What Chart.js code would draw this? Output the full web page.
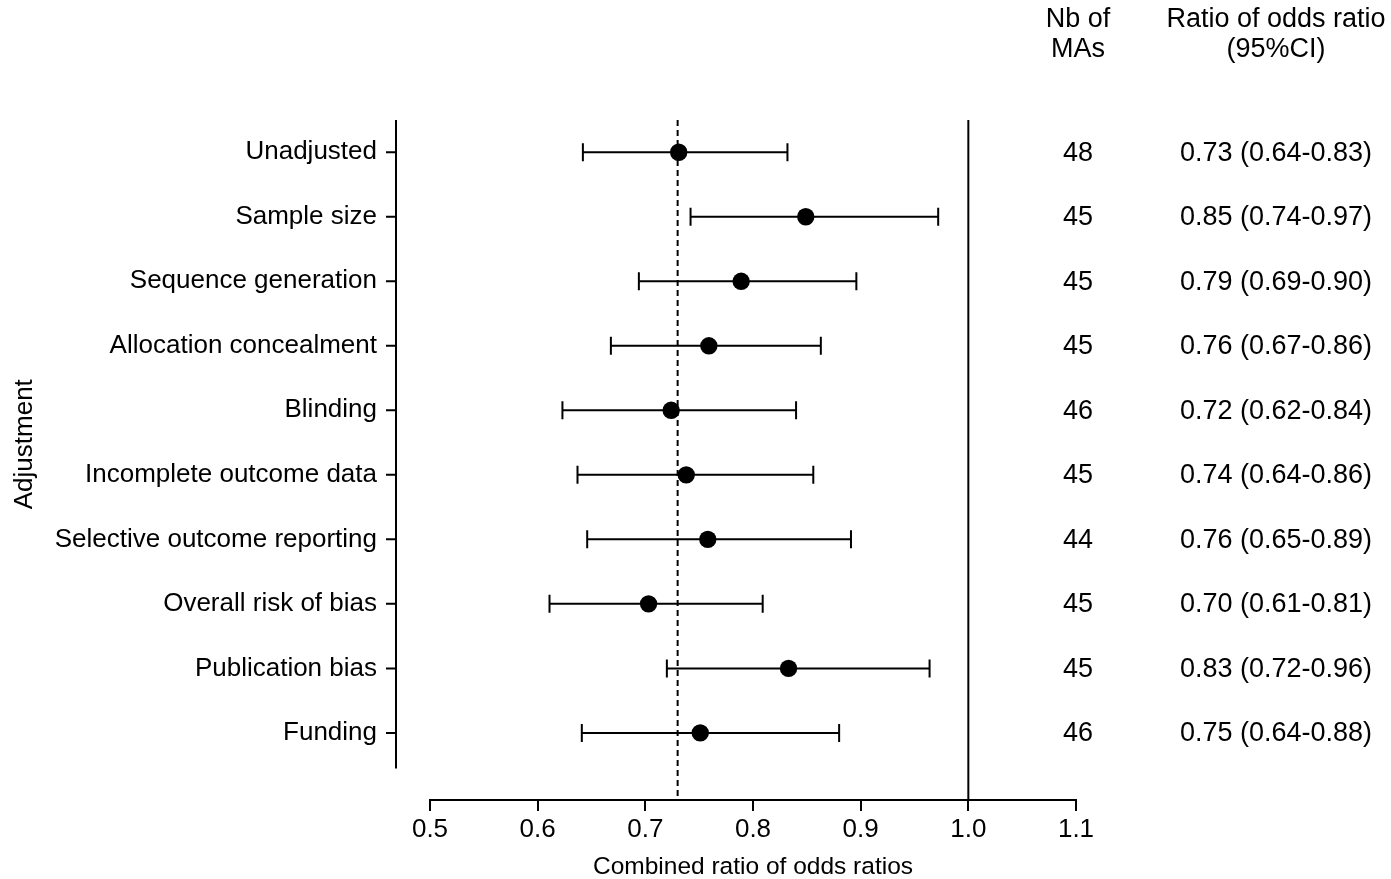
<!DOCTYPE html>
<html>
<head>
<meta charset="utf-8">
<script src="https://cdn.jsdelivr.net/npm/chart.js@4.4.1/dist/chart.umd.min.js"></script>
<style>
  body { margin: 0; background: #fff; }
  canvas { display: block; }
</style>
</head>
<body>
<canvas id="forest" width="1391" height="879"></canvas>
<script>
const rowLabels = ['Unadjusted', 'Sample size', 'Sequence generation', 'Allocation concealment', 'Blinding',
    'Incomplete outcome data', 'Selective outcome reporting', 'Overall risk of bias', 'Publication bias', 'Funding'];
const estimate = [0.731, 0.849, 0.789, 0.759, 0.724, 0.738, 0.758, 0.703, 0.833, 0.751];
const lower = [0.642, 0.742, 0.694, 0.668, 0.623, 0.637, 0.646, 0.611, 0.720, 0.641];
const upper = [0.832, 0.972, 0.896, 0.863, 0.840, 0.856, 0.891, 0.809, 0.964, 0.880];
const nbMAs = ['48', '45', '45', '45', '46', '45', '44', '45', '45', '46'];
const ciText = ['0.73 (0.64-0.83)', '0.85 (0.74-0.97)', '0.79 (0.69-0.90)', '0.76 (0.67-0.86)', '0.72 (0.62-0.84)',
    '0.74 (0.64-0.86)', '0.76 (0.65-0.89)', '0.70 (0.61-0.81)', '0.83 (0.72-0.96)', '0.75 (0.64-0.88)'];
const pooledValue = 0.73;
const nullValue = 1.0;
const xTicks = [0.5, 0.6, 0.7, 0.8, 0.9, 1.0, 1.1];

const font = '"Liberation Sans", Arial, sans-serif';

// error bars, reference lines, y axis and the right-hand columns
const forestPlugin = {
    id: 'forest',
    beforeDatasetsDraw(chart) {
        const ctx = chart.ctx;
        const x = chart.scales.x;
        const y = chart.scales.y;
        const top = chart.chartArea.top;
        const bottom = chart.chartArea.bottom;
        ctx.save();
        ctx.strokeStyle = '#000';

        ctx.lineWidth = 2;
        ctx.setLineDash([6, 4]);
        ctx.beginPath();
        ctx.moveTo(x.getPixelForValue(pooledValue), top);
        ctx.lineTo(x.getPixelForValue(pooledValue), bottom);
        ctx.stroke();
        ctx.setLineDash([]);

        ctx.lineWidth = 2;
        ctx.beginPath();
        ctx.moveTo(x.getPixelForValue(nullValue), top);
        ctx.lineTo(x.getPixelForValue(nullValue), bottom);
        ctx.stroke();

        ctx.lineWidth = 2;
        for (let i = 0; i < rowLabels.length; i++) {
            const py = y.getPixelForValue(i);
            const x1 = x.getPixelForValue(lower[i]);
            const x2 = x.getPixelForValue(upper[i]);
            ctx.beginPath();
            ctx.moveTo(x1, py);
            ctx.lineTo(x2, py);
            ctx.moveTo(x1, py - 9);
            ctx.lineTo(x1, py + 9);
            ctx.moveTo(x2, py - 9);
            ctx.lineTo(x2, py + 9);
            ctx.stroke();
        }
        ctx.restore();
    },
    afterDraw(chart) {
        const ctx = chart.ctx;
        const x = chart.scales.x;
        const y = chart.scales.y;
        const axisX = x.left - 34;
        const yTop = y.getPixelForValue(-0.5);
        const yBot = y.getPixelForValue(9.55);
        ctx.save();
        ctx.strokeStyle = '#000';
        ctx.lineWidth = 2;
        ctx.beginPath();
        ctx.moveTo(axisX, yTop);
        ctx.lineTo(axisX, yBot);
        for (let i = 0; i < rowLabels.length; i++) {
            const py = y.getPixelForValue(i);
            ctx.moveTo(axisX - 10, py);
            ctx.lineTo(axisX, py);
        }
        ctx.stroke();

        ctx.fillStyle = '#000';
        ctx.font = '27px ' + font;
        ctx.textAlign = 'center';
        ctx.textBaseline = 'middle';
        ctx.fillText('Nb of', 1078, 20);
        ctx.fillText('MAs', 1078, 50);
        ctx.fillText('Ratio of odds ratio', 1276, 20);
        ctx.fillText('(95%CI)', 1276, 50);
        for (let i = 0; i < rowLabels.length; i++) {
            const py = y.getPixelForValue(i) + 1;
            ctx.fillText(nbMAs[i], 1078, py);
            ctx.fillText(ciText[i], 1276, py);
        }

        ctx.font = '26px ' + font;
        ctx.translate(25, (yTop + yBot) / 2);
        ctx.rotate(-Math.PI / 2);
        ctx.fillText('Adjustment', 0, 0);
        ctx.restore();
    }
};

new Chart(document.getElementById('forest'), {
    type: 'scatter',
    data: {
        datasets: [{
            data: estimate.map((v, i) => ({ x: v, y: i })),
            backgroundColor: '#000',
            borderWidth: 0,
            pointRadius: 8.7,
            pointHoverRadius: 8.7,
            clip: false
        }]
    },
    options: {
        responsive: false,
        animation: false,
        devicePixelRatio: 1,
        layout: { padding: { left: 0, right: 315, top: 120, bottom: 0 } },
        plugins: {
            legend: { display: false },
            tooltip: { enabled: false }
        },
        scales: {
            x: {
                type: 'linear',
                min: 0.5,
                max: 1.1,
                afterBuildTicks: scale => { scale.ticks = xTicks.map(v => ({ value: v })); },
                afterFit: scale => { scale.height = 79; },
                border: { display: true, color: '#000', width: 2 },
                grid: { display: true, drawOnChartArea: false, drawTicks: true, tickLength: 11, color: '#000', lineWidth: 2 },
                ticks: {
                    color: '#000',
                    font: { family: font, size: 26 },
                    padding: 3,
                    callback: v => v.toFixed(1)
                },
                title: {
                    display: true,
                    text: 'Combined ratio of odds ratios',
                    color: '#000',
                    font: { family: font, size: 24.5 },
                    padding: { top: 0, bottom: -3 }
                }
            },
            y: {
                type: 'linear',
                reverse: true,
                min: -0.5,
                max: 10.04,
                afterBuildTicks: scale => { scale.ticks = rowLabels.map((l, i) => ({ value: i })); },
                afterFit: scale => { scale.width = 430; },
                border: { display: false },
                grid: { display: false, drawTicks: false },
                ticks: {
                    autoSkip: false,
                    color: '#000',
                    font: { family: font, size: 26 },
                    padding: 53,
                    callback: v => rowLabels[v]
                }
            }
        }
    },
    plugins: [forestPlugin]
});
</script>
</body>
</html>
